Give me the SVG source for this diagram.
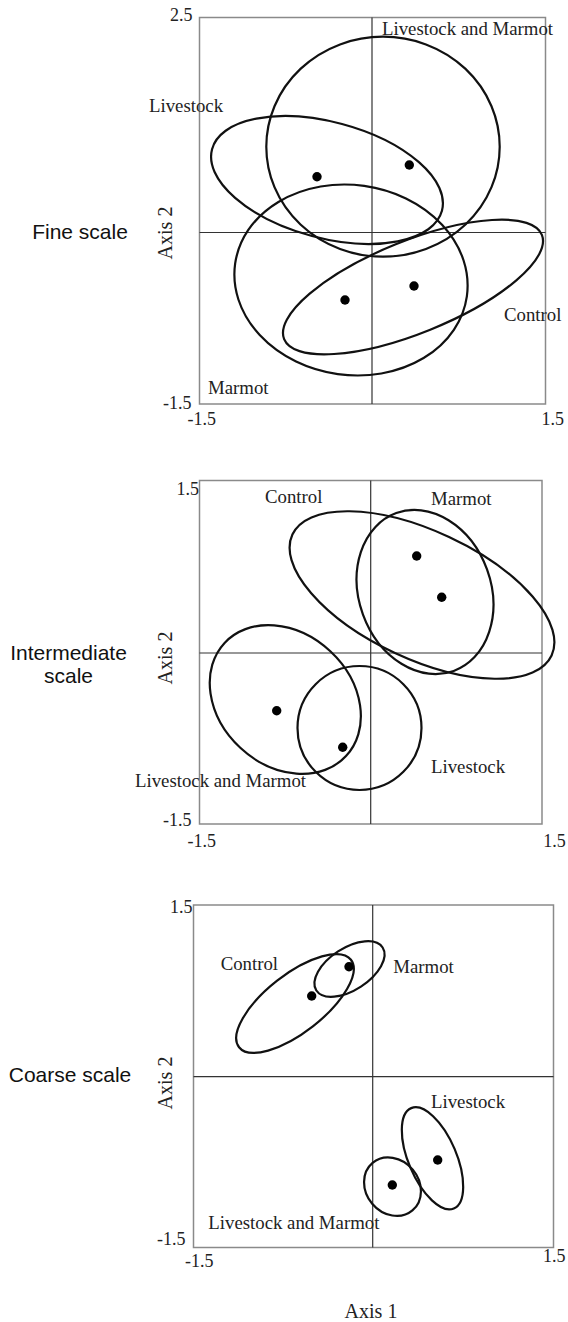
<svg xmlns="http://www.w3.org/2000/svg" width="568" height="1322" viewBox="0 0 568 1322">
<style>
.box{fill:none;stroke:#8a8a8a;stroke-width:1.5}
.ax{stroke:#333;stroke-width:1.2}
.el{fill:none;stroke:#111;stroke-width:2.2}
.dot{fill:#000}
.t{font-family:"Liberation Serif",serif;font-size:18px;fill:#222}
.l{font-size:18.8px}
.ta{font-family:"Liberation Serif",serif;font-size:20px;fill:#222}
.s{font-family:"Liberation Sans",Arial,sans-serif;font-size:21px;fill:#111;text-anchor:middle}
</style>
<rect width="568" height="1322" fill="#fff"/>
<g id="panel-fine">
<rect class="box" x="199.5" y="17.5" width="346" height="386.5"/>
<line class="ax" x1="372" y1="17.5" x2="372" y2="404"/>
<line class="ax" x1="199.5" y1="232.5" x2="545.5" y2="232.5"/>
<text class="t" x="170" y="21">2.5</text>
<text class="t" x="163" y="408.5">-1.5</text>
<text class="t" x="187.5" y="425">-1.5</text>
<text class="t" x="541.5" y="425">1.5</text>
<text class="ta" transform="translate(172,233) rotate(-90)" text-anchor="middle">Axis 2</text>
<text class="s" x="80" y="239">Fine scale</text>
<g id="f-lm"><ellipse class="el" cx="383" cy="146.7" rx="116.7" ry="110"/><circle class="dot" cx="409.3" cy="165" r="4.7"/><text class="t l" x="382" y="35">Livestock and Marmot</text></g>
<g id="f-l"><ellipse class="el" cx="0" cy="0" rx="119" ry="58" transform="translate(327,180) rotate(15)"/><circle class="dot" cx="317" cy="176.7" r="4.7"/><text class="t l" x="149" y="111.5">Livestock</text></g>
<g id="f-m"><ellipse class="el" cx="0" cy="0" rx="117" ry="95" transform="translate(351,280) rotate(8)"/><circle class="dot" cx="345" cy="300" r="4.7"/><text class="t l" x="208" y="394">Marmot</text></g>
<g id="f-c"><ellipse class="el" cx="0" cy="0" rx="139" ry="46" transform="translate(413,287) rotate(-22)"/><circle class="dot" cx="414" cy="286" r="4.7"/><text class="t l" x="504" y="321">Control</text></g>
</g>
<g id="panel-intermediate">
<rect class="box" x="199.5" y="480.5" width="342.5" height="343.5"/>
<line class="ax" x1="370.7" y1="480.5" x2="370.7" y2="824"/>
<line class="ax" x1="199.5" y1="653" x2="542" y2="653"/>
<text class="t" x="176.5" y="495">1.5</text>
<text class="t" x="163" y="826">-1.5</text>
<text class="t" x="187.5" y="846.5">-1.5</text>
<text class="t" x="543.3" y="846.5">1.5</text>
<text class="ta" transform="translate(172,658) rotate(-90)" text-anchor="middle">Axis 2</text>
<text class="s" x="68.5" y="660">Intermediate</text>
<text class="s" x="68.5" y="683">scale</text>
<g id="i-c"><ellipse class="el" cx="0" cy="0" rx="143" ry="64" transform="translate(422,595) rotate(25)"/><text class="t l" x="265" y="503">Control</text></g>
<g id="i-m"><ellipse class="el" cx="0" cy="0" rx="66" ry="84" transform="translate(425,592) rotate(-20)"/><circle class="dot" cx="416.7" cy="556" r="4.7"/><circle class="dot" cx="441.7" cy="597.3" r="4.7"/><text class="t l" x="431" y="505">Marmot</text></g>
<g id="i-lm"><ellipse class="el" cx="0" cy="0" rx="83" ry="66" transform="translate(285.3,699.5) rotate(43)"/><circle class="dot" cx="276.7" cy="710.7" r="4.7"/><text class="t l" x="135" y="786.5">Livestock and Marmot</text></g>
<g id="i-l"><ellipse class="el" cx="359.5" cy="728" rx="62" ry="62"/><circle class="dot" cx="342.7" cy="747.3" r="4.7"/><text class="t l" x="431" y="773">Livestock</text></g>
</g>
<g id="panel-coarse">
<rect class="box" x="193.5" y="905" width="360" height="342.5"/>
<line class="ax" x1="372.7" y1="905" x2="372.7" y2="1247.5"/>
<line class="ax" x1="193.5" y1="1076.7" x2="553.5" y2="1076.7"/>
<text class="t" x="170" y="913">1.5</text>
<text class="t" x="157" y="1245">-1.5</text>
<text class="t" x="185" y="1267">-1.5</text>
<text class="t" x="543" y="1262">1.5</text>
<text class="ta" transform="translate(172,1083) rotate(-90)" text-anchor="middle">Axis 2</text>
<text class="s" x="70" y="1082">Coarse scale</text>
<g id="c-c"><ellipse class="el" cx="0" cy="0" rx="71" ry="29" transform="translate(295,1003.5) rotate(-38)"/><circle class="dot" cx="311.7" cy="996" r="4.7"/><text class="t l" x="220.7" y="970">Control</text></g>
<g id="c-m"><ellipse class="el" cx="0" cy="0" rx="39.5" ry="21" transform="translate(349.5,969) rotate(-33)"/><circle class="dot" cx="349" cy="966.7" r="4.7"/><text class="t l" x="393.3" y="973">Marmot</text></g>
<g id="c-lm"><ellipse class="el" cx="0" cy="0" rx="31" ry="26.5" transform="translate(392.5,1186.7) rotate(50)"/><circle class="dot" cx="392.3" cy="1185" r="4.7"/><text class="t l" x="208.3" y="1229.3">Livestock and Marmot</text></g>
<g id="c-l"><ellipse class="el" cx="0" cy="0" rx="54.5" ry="24" transform="translate(432.5,1158.3) rotate(67)"/><circle class="dot" cx="437.7" cy="1160" r="4.7"/><text class="t l" x="431" y="1108.3">Livestock</text></g>
</g>
<text class="ta" x="371" y="1318" text-anchor="middle">Axis 1</text>
</svg>
